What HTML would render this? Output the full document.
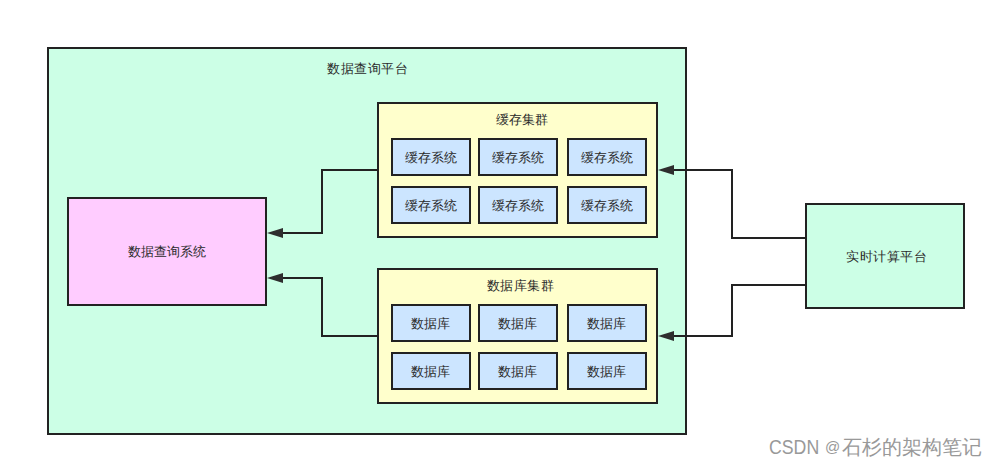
<!DOCTYPE html>
<html><head><meta charset="utf-8">
<style>
html,body{margin:0;padding:0;background:#fff;width:996px;height:466px;overflow:hidden}
body{position:relative;font-family:"Liberation Sans",sans-serif;color:#2b2b2b}
.t{position:absolute;font-size:13px;line-height:13px;white-space:nowrap;transform:translate(-50%,-50%)}
svg{position:absolute;left:0;top:0}
.w{position:absolute;font-size:20px;line-height:20px;white-space:nowrap;color:#999}
</style></head><body>
<svg width="996" height="466" viewBox="0 0 996 466">
<g stroke="#222" stroke-width="2" shape-rendering="crispEdges">
<rect x="48" y="48" width="638" height="386" fill="#ccffe6"/>
<rect x="378" y="103" width="279" height="134" fill="#ffffcc"/>
<rect x="378" y="269" width="279" height="134" fill="#ffffcc"/>
<rect x="68" y="198" width="198" height="107" fill="#ffccff"/>
<rect x="806" y="204" width="158" height="104" fill="#ccffe6"/>
<g fill="#cce5ff">
<rect x="392" y="139" width="78" height="36"/>
<rect x="479" y="139" width="78" height="36"/>
<rect x="568" y="139" width="78" height="36"/>
<rect x="392" y="187" width="78" height="36"/>
<rect x="479" y="187" width="78" height="36"/>
<rect x="568" y="187" width="78" height="36"/>
<rect x="392" y="305" width="78" height="36"/>
<rect x="479" y="305" width="78" height="36"/>
<rect x="568" y="305" width="78" height="36"/>
<rect x="392" y="353" width="78" height="36"/>
<rect x="479" y="353" width="78" height="36"/>
<rect x="568" y="353" width="78" height="36"/>
</g>
<g fill="none">
<polyline points="378,170 322,170 322,233 280,233"/>
<polyline points="378,336 322,336 322,278 280,278"/>
<polyline points="806,238 732,238 732,170 670,170"/>
<polyline points="806,285 732,285 732,336 670,336"/>
</g>
</g>
<g fill="#2e2e2e">
<polygon points="267,233 283,228 283,238"/>
<polygon points="267,278 283,273 283,283"/>
<polygon points="658,170 674,165 674,175"/>
<polygon points="658,336 674,331 674,341"/>
</g>
</svg>
<div class="t" style="left:367.5px;top:68px;font-size:13px;letter-spacing:0.5px">数据查询平台</div>
<div class="t" style="left:522px;top:119px">缓存集群</div>
<div class="t" style="left:520.5px;top:285px;letter-spacing:0.4px">数据库集群</div>
<div class="t" style="left:167px;top:251px">数据查询系统</div>
<div class="t" style="left:886.5px;top:256px;font-size:13px;letter-spacing:0.5px">实时计算平台</div>
<div class="t" style="left:431px;top:157px">缓存系统</div>
<div class="t" style="left:518px;top:157px">缓存系统</div>
<div class="t" style="left:607px;top:157px">缓存系统</div>
<div class="t" style="left:431px;top:205px">缓存系统</div>
<div class="t" style="left:518px;top:205px">缓存系统</div>
<div class="t" style="left:607px;top:205px">缓存系统</div>
<div class="t" style="left:430px;top:323px">数据库</div>
<div class="t" style="left:517px;top:323px">数据库</div>
<div class="t" style="left:606px;top:323px">数据库</div>
<div class="t" style="left:430px;top:371px">数据库</div>
<div class="t" style="left:517px;top:371px">数据库</div>
<div class="t" style="left:606px;top:371px">数据库</div>
<div class="w" style="left:769px;top:437px;transform:scaleX(0.886);transform-origin:0 0">CSDN</div>
<div class="w" style="left:825px;top:439px;font-size:15px;line-height:15px">@</div>
<div class="w" style="left:842px;top:437px">石杉的架构笔记</div>
</body></html>
